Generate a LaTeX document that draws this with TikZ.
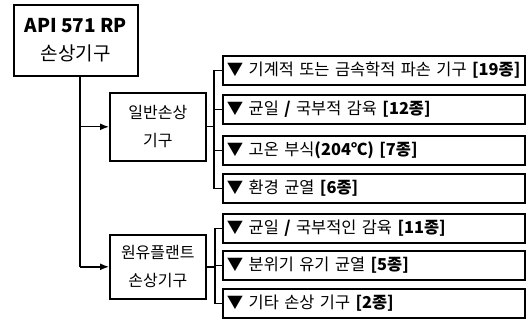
\documentclass[tikz,border=0pt]{standalone}
\usepackage{fontspec}
\setmainfont{Noto Sans CJK KR}
\usetikzlibrary{arrows.meta}
\begin{document}
\begin{tikzpicture}[x=1pt,y=-1pt,
  box/.style={draw=black,line width=1.6pt,fill=white,inner sep=0pt},
  item/.style={box,anchor=north west,text width=294pt,align=left,inner xsep=4pt,minimum height=29pt,font=\fontsize{16.4}{18}\selectfont},
  mid/.style={box,anchor=north west,minimum width=96pt,align=center,font=\fontsize{16}{28}\selectfont},
  conn/.style={line width=1.4pt},
  arr/.style={conn,-{Latex[length=9pt,width=7pt]}}]
\useasboundingbox (0,0) rectangle (527,320);
\node[box,anchor=north west,minimum width=124pt,minimum height=71pt,align=center,font=\fontsize{19}{28}\selectfont] (top) at (13,4) {\textbf{API 571 RP}\\손상기구};
\node[mid,minimum height=68pt] (gen) at (109,92) {일반손상\\기구};
\node[mid,minimum height=64pt] (oil) at (109,234) {원유플랜트\\손상기구};
\node[item] (a1) at (222,55) {▼ 기계적 또는 금속학적 파손 기구 \textbf{[19종]}};
\node[item] (a2) at (222,94) {▼ 균일 \textbf{/} 국부적 감육 \textbf{[12종]}};
\node[item] (a3) at (222,135) {▼ 고온 부식\textbf{(204℃)} \textbf{[7종]}};
\node[item] (a4) at (222,173) {▼ 환경 균열 \textbf{[6종]}};
\node[item] (b1) at (222,213) {▼ 균일 \textbf{/} 국부적인 감육 \textbf{[11종]}};
\node[item] (b2) at (222,250) {▼ 분위기 유기 균열 \textbf{[5종]}};
\node[item] (b3) at (222,288) {▼ 기타 손상 기구 \textbf{[2종]}};
\coordinate (ts) at (80,0);
\coordinate (gx) at (214,0);
\coordinate (ox) at (215,0);
% main trunk
\draw[conn] (ts |- top.south) -- (ts |- oil.west);
\draw[arr] (ts |- gen.west) -- (gen.west);
\draw[arr] (ts |- oil.west) -- (oil.west);
% general bracket
\draw[conn] (gen.east) -- (gx |- gen.east);
\draw[conn] (a1.west) -| (gx |- a4.west) -- (a4.west);
\draw[conn] (gx |- a2.west) -- (a2.west);
\draw[conn] (gx |- a3.west) -- (a3.west);
% oil bracket
\draw[conn] (oil.east) -- (ox |- oil.east);
\draw[conn] (b1.west) -| (ox |- b3.west) -- (b3.west);
\draw[conn] (ox |- b2.west) -- (b2.west);
\end{tikzpicture}
\end{document}
